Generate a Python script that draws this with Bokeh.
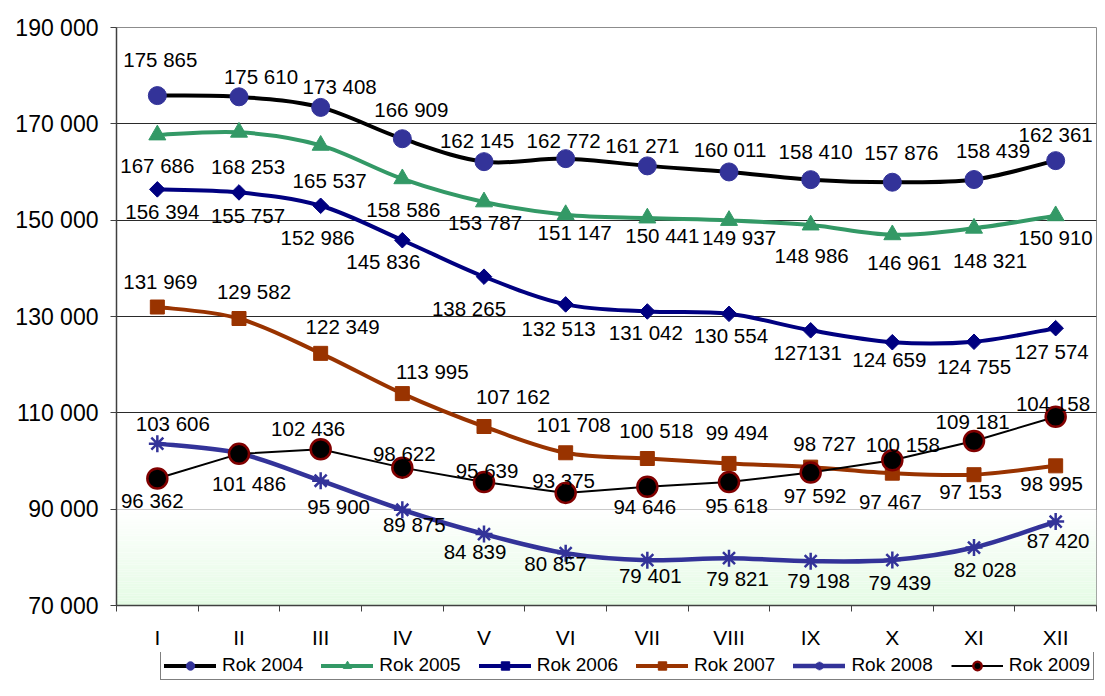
import numpy as np
from bokeh.plotting import figure
from bokeh.layouts import column
from bokeh.models import (Range1d, FixedTicker, Legend, LegendItem,
                          BoxAnnotation, ColumnDataSource, LabelSet)
from bokeh.core.properties import value
from bokeh.embed import file_html
from bokeh.resources import INLINE

# ---------------- data ----------------
months = ["I", "II", "III", "IV", "V", "VI", "VII", "VIII", "IX", "X", "XI", "XII"]
rok_2004 = [175865, 175610, 173408, 166909, 162145, 162772, 161271, 160011, 158410, 157876, 158439, 162361]
rok_2005 = [167686, 168253, 165537, 158586, 153787, 151147, 150441, 149937, 148986, 146961, 148321, 150910]
rok_2006 = [156394, 155757, 152986, 145836, 138265, 132513, 131042, 130554, 127131, 124659, 124755, 127574]
rok_2007 = [131969, 129582, 122349, 113995, 107162, 101708, 100518, 99494, 98727, 97467, 97153, 98995]
rok_2008 = [103606, 101600, 95900, 89875, 84839, 80857, 79401, 79821, 79198, 79439, 82028, 87420]
rok_2009 = [96362, 101486, 102436, 98622, 95639, 93375, 94646, 95618, 97592, 100158, 104158, 109181]
y_ticks = [70000, 90000, 110000, 130000, 150000, 170000, 190000]

# ---------------- label placement (screen px, +dy = down) ----------------
lab_dx = {
    "2004": [3, 22, 19, 9, -7, -2, -5, 1, 5, 9, 19, 0],
    "2005": [0, 9, 9, 1, 1, 9, 15, 10, 1, 12, 16, 0],
    "2006": [5, 9, -3, -19, -15, -7, -1.5, 2, -3, -3, 0, -4],
    "2007": [3, 15, 22, 30, 29, 8, 9, 8, 14, -2, -3.5, -4],
    "2008": [15.5, 0, 18, 12, -9, -10, 3, 8.5, 8, 7.5, 11, 2.5],
    "2009": [-5, 10, -12.5, 2, 3, -2, -2.5, 7.5, 4.5, 10.5, 79, -83],
}
lab_dy = {
    "2004": [-36, -20, -21, -29, -21, -18, -20, -22, -28, -30, -29, -26],
    "2005": [31, 34, 35, 31, 21, 18, 17, 17.5, 30, 28, 32, 22],
    "2006": [22, 23, 32, 21, 32, 24, 21.5, 22, 23, 17, 25, 23],
    "2007": [-26, -27.5, -27, -22.5, -30.5, -28, -28.5, -31, -23.5, 28, 17, 18],
    "2008": [-20.5, 0, 26, 15, 17, 10, 15, 20, 19, 22.5, 21.5, 19],
    "2009": [22, 30, -21, -14.5, -12, -12, 20, 23.5, 23, -15.5, -37.5, 5],
}
hidden_labels = {("2008", 1)}
text_overrides = {("2006", 8): "127131"}

FONT = "Liberation Sans"
W = 1097


def fmt(v):
    return f"{v:,}".replace(",", " ")


def bezier_cols(xs, ys):
    n = len(xs)
    out = dict(x0=[], y0=[], x1=[], y1=[], cx0=[], cy0=[], cx1=[], cy1=[])
    for i in range(n - 1):
        a = i - 1 if i > 0 else i
        d = i + 2 if i + 2 < n else i + 1
        out["x0"].append(xs[i]); out["y0"].append(ys[i])
        out["x1"].append(xs[i + 1]); out["y1"].append(ys[i + 1])
        out["cx0"].append(xs[i] + (xs[i + 1] - xs[a]) / 6.0)
        out["cy0"].append(ys[i] + (ys[i + 1] - ys[a]) / 6.0)
        out["cx1"].append(xs[i + 1] - (xs[d] - xs[i]) / 6.0)
        out["cy1"].append(ys[i + 1] - (ys[d] - ys[i]) / 6.0)
    return out


xpos = list(range(1, len(months) + 1))

p = figure(width=W, height=652, output_backend="svg", toolbar_location=None,
           x_range=Range1d(0.5, 12.5), y_range=Range1d(70000, 190000),
           min_border_left=116, min_border_top=27, min_border_right=1,
           min_border_bottom=47)
p.background_fill_color = "white"
p.border_fill_color = "white"
p.outline_line_color = "#8c8c8c"
p.outline_line_width = 1

# gradient in lower band
nb = 40
for k in range(nb):
    lo = 70000 + k * 20000 / nb
    hi = 70000 + (k + 1) * 20000 / nb
    t = 1 - (k + 0.5) / nb
    r = int(round(255 - t * (255 - 0xe4)))
    g = int(round(255 - t * (255 - 0xfb)))
    b = int(round(255 - t * (255 - 0xe4)))
    p.add_layout(BoxAnnotation(bottom=lo, top=hi, fill_color=f"#{r:02x}{g:02x}{b:02x}",
                               fill_alpha=1, line_alpha=0, level="underlay"))

# axes / grid
p.xgrid.grid_line_color = None
p.ygrid.ticker = FixedTicker(ticks=y_ticks)
p.ygrid.grid_line_color = "#2a2a2a"
p.ygrid.grid_line_width = 1

p.yaxis.ticker = FixedTicker(ticks=y_ticks)
p.yaxis.major_label_overrides = {t: fmt(t) for t in y_ticks}
p.yaxis.major_label_text_font = FONT
p.yaxis.major_label_text_font_size = "23px"
p.yaxis.major_label_text_color = "black"
p.yaxis.major_tick_out = 6
p.yaxis.major_tick_in = 0
p.yaxis.minor_tick_out = 0
p.yaxis.major_label_standoff = 12
p.yaxis.axis_line_color = "#404040"
p.yaxis.axis_line_width = 1.5
p.yaxis.major_tick_line_color = "#404040"

p.xaxis.ticker = FixedTicker(ticks=xpos, minor_ticks=[x - 0.5 for x in xpos] + [12.5])
p.xaxis.major_label_overrides = {x: m for x, m in zip(xpos, months)}
p.xaxis.major_label_text_font = FONT
p.xaxis.major_label_text_font_size = "21px"
p.xaxis.major_label_text_color = "black"
p.xaxis.major_tick_out = 0
p.xaxis.major_tick_in = 0
p.xaxis.minor_tick_out = 6
p.xaxis.minor_tick_in = 0
p.xaxis.minor_tick_line_color = "#404040"
p.xaxis.major_label_standoff = 14
p.xaxis.axis_line_color = "#404040"
p.xaxis.axis_line_width = 1.5

series = [
    ("2004", rok_2004, dict(color="black", width=4, smooth=True,
                            marker="circle", size=18, fill="#333399", line="#333399", lw=1, angle=0)),
    ("2005", rok_2005, dict(color="#339966", width=4, smooth=True,
                            marker="triangle", size=17, fill="#339966", line="#339966", lw=1, angle=0)),
    ("2006", rok_2006, dict(color="#000080", width=4, smooth=True,
                            marker="square", size=11, fill="#000080", line="#000080", lw=1, angle=np.pi / 4)),
    ("2007", rok_2007, dict(color="#993300", width=4, smooth=True,
                            marker="square", size=14, fill="#993300", line="#993300", lw=1, angle=0)),
    ("2008", rok_2008, dict(color="#333399", width=4.5, smooth=True,
                            marker="asterisk", size=17, fill="#333399", line="#333399", lw=2.5, angle=0)),
    ("2009", rok_2009, dict(color="black", width=2, smooth=False,
                            marker="circle", size=20, fill="black", line="#800000", lw=2.5, angle=0)),
]


def draw_series(fig, name, vals, st):
    if st["smooth"]:
        lr = fig.bezier(source=ColumnDataSource(bezier_cols(xpos, vals)),
                        x0="x0", y0="y0", x1="x1", y1="y1",
                        cx0="cx0", cy0="cy0", cx1="cx1", cy1="cy1",
                        line_color=st["color"], line_width=st["width"], line_cap="round")
    else:
        lr = fig.line(xpos, vals, line_color=st["color"], line_width=st["width"])
    sr = fig.scatter(xpos, vals, marker=st["marker"], size=st["size"], angle=st["angle"],
                     fill_color=st["fill"], line_color=st["line"], line_width=st["lw"])
    return lr, sr


for name, vals, st in series:
    draw_series(p, name, vals, st)

# data labels (on top)
for name, vals, st in series:
    xs, ys, txt, dx, dy = [], [], [], [], []
    for i, v in enumerate(vals):
        if (name, i) in hidden_labels:
            continue
        xs.append(xpos[i]); ys.append(v)
        txt.append(text_overrides.get((name, i), fmt(v)))
        dx.append(lab_dx[name][i]); dy.append(-lab_dy[name][i])
    src = ColumnDataSource(dict(x=xs, y=ys, t=txt, dx=dx, dy=dy))
    p.add_layout(LabelSet(x="x", y="y", text="t", x_offset="dx", y_offset="dy", source=src,
                          text_font=value(FONT), text_font_size=value("20.5px"),
                          text_color=value("black"),
                          text_align="center", text_baseline="middle"))

# legend strip (separate figure holding the same series, out of its view)
lg = figure(width=W, height=28, output_backend="svg", toolbar_location=None,
            x_range=Range1d(-10, -9), y_range=Range1d(-10, -9),
            x_axis_location=None, y_axis_location=None,
            min_border_left=0, min_border_right=0, min_border_top=0, min_border_bottom=0)
lg.grid.grid_line_color = None
lg.outline_line_color = None
lg.background_fill_color = "white"
lg.border_fill_color = "white"

items = []
for name, vals, st in series:
    lr, sr = draw_series(lg, name, vals, st)
    items.append(LegendItem(label="Rok " + name, renderers=[lr, sr]))

legend = Legend(items=items, orientation="horizontal", location=(44, 0),
                glyph_width=52, glyph_height=21, label_standoff=6, spacing=18,
                padding=3, margin=0,
                label_text_font=FONT, label_text_font_size="19px",
                label_text_color="black", border_line_color="black",
                border_line_width=1, background_fill_color="white")
lg.add_layout(legend, "center")

layout = column(p, lg, spacing=0)
open("out.html", "w").write(file_html(layout, INLINE))
